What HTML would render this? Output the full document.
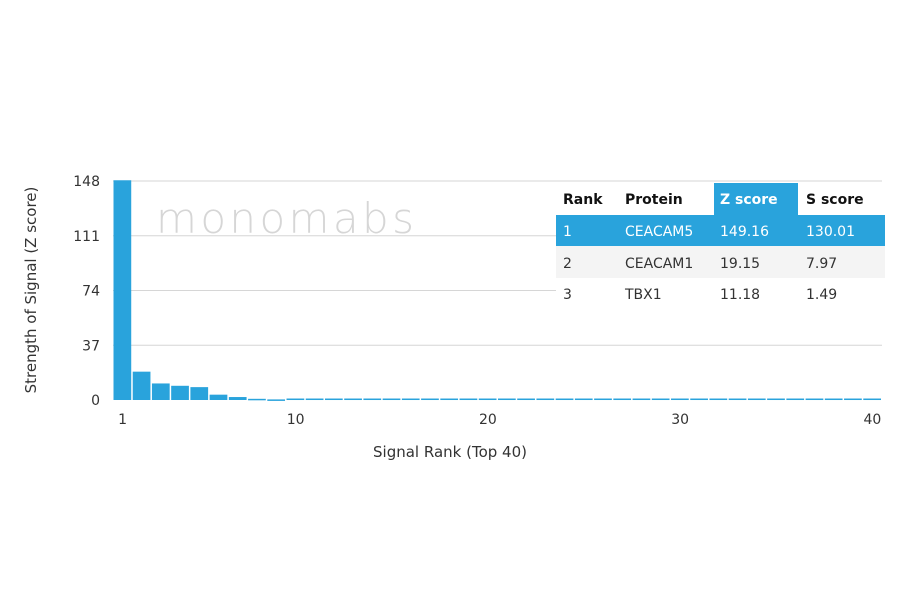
<!DOCTYPE html>
<html><head><style>
body{margin:0;background:#fff;font-family:"DejaVu Sans","Liberation Sans",sans-serif;}
svg text{font-family:"DejaVu Sans","Liberation Sans",sans-serif;}
</style></head><body>
<svg id="c" width="900" height="594">
<text x="156" y="233" font-size="42" fill="#d6d6d6" textLength="258" lengthAdjust="spacing" font-weight="300">monomabs</text>
<text x="36" y="290" font-size="15" fill="#333" text-anchor="middle" transform="rotate(-90 36 290)">Strength of Signal (Z score)</text>
<text x="450" y="457" font-size="15" fill="#333" text-anchor="middle">Signal Rank (Top 40)</text>
<g id="grid"></g><g id="bars"></g><g id="xt"></g>
<g>
<rect x="556" y="183" width="329" height="32" fill="#fff"/>
<rect x="714" y="183" width="84" height="32" fill="#29a3dc"/>
<rect x="556" y="215" width="329" height="31" fill="#29a3dc"/>
<rect x="556" y="246" width="329" height="32" fill="#f4f4f4"/>
<rect x="556" y="278" width="329" height="32" fill="#fff"/>
<g font-size="14" font-weight="bold" fill="#111">
<text x="563" y="204">Rank</text>
<text x="625" y="204">Protein</text>
<text x="720" y="204" fill="#fff">Z score</text>
<text x="806" y="204">S score</text></g>
<g font-size="14" fill="#fff">
<text x="563" y="236">1</text>
<text x="625" y="236">CEACAM5</text>
<text x="720" y="236">149.16</text>
<text x="806" y="236">130.01</text></g>
<g font-size="14" fill="#333">
<text x="563" y="268">2</text>
<text x="625" y="268">CEACAM1</text>
<text x="720" y="268">19.15</text>
<text x="806" y="268">7.97</text>
<text x="563" y="299">3</text>
<text x="625" y="299">TBX1</text>
<text x="720" y="299">11.18</text>
<text x="806" y="299">1.49</text></g>
</g>
</svg>
<script>
const yTicks=[0,37,74,111,148];
const xTicks=[1,10,20,30,40];
const values=[149.16,19.15,11.18,9.6,8.7,3.6,2.0,0.8,0.4,1,1,1,1,1,1,1,1,1,1,1,1,1,1,1,1,1,1,1,1,1,1,1,1,1,1,1,1,1,1,1];
const ns='http://www.w3.org/2000/svg';
const x0=113,x1=882,y0=400,yTop=181,n=40,bw=(x1-x0)/n;
const ys=v=>y0-(Math.min(v,148.5)/148)*(y0-yTop);
const xs=r=>x0+(r-1)*bw;
function mk(t,a,p){const e=document.createElementNS(ns,t);for(const k in a)e.setAttribute(k,a[k]);p.appendChild(e);return e;}
const g=document.getElementById('grid');
yTicks.forEach(t=>{
 if(t>0){const l=mk('line',{x1:x0,x2:x1,y1:ys(t),y2:ys(t),stroke:'#d6d6d6','stroke-width':1},g);
 
 }
 const tx=mk('text',{x:100,y:ys(t)+5,'font-size':14,fill:'#333','text-anchor':'end'},g);
 tx.textContent=t;
 
 
});
const b=document.getElementById('bars');
values.forEach((v,i)=>{
 const r=mk('rect',{x:xs(i+1)+0.5,y:ys(v),width:bw-1.5,height:Math.max(y0-ys(v),1.5),fill:'#29a3dc'},b);
 
 
});
const xt=document.getElementById('xt');
xTicks.forEach(t=>{
 const tx=mk('text',{x:xs(t)+bw/2,y:424,'font-size':14,fill:'#333','text-anchor':'middle'},xt);
 tx.textContent=t;
 
 
});
</script>
</body></html>
